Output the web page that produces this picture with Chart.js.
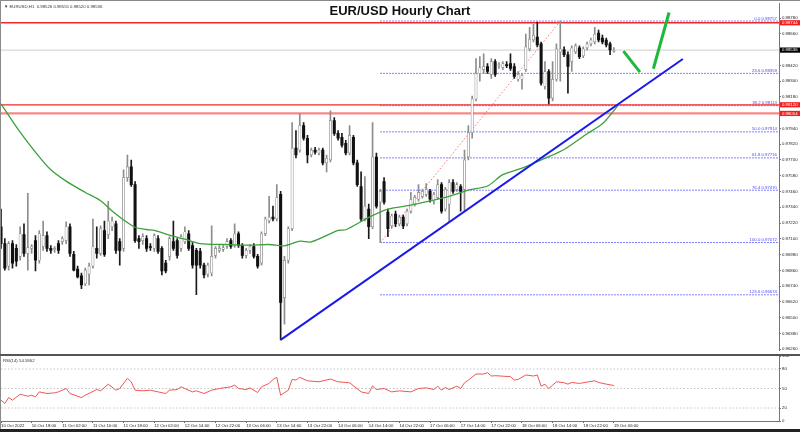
<!DOCTYPE html>
<html>
<head>
<meta charset="utf-8">
<script src="https://cdn.jsdelivr.net/npm/chart.js@4.4.0/dist/chart.umd.min.js"></script>
<style>
  html, body { margin: 0; padding: 0; background: #fff; }
  #wrap { position: relative; width: 800px; height: 432px; overflow: hidden; background: #fff; }
  #priceCanvas { position: absolute; left: 0; top: 0; }
  #rsiCanvas { position: absolute; left: 0; top: 350px; }
  .title { position: absolute; top: 3px; left: 0; width: 800px; text-align: center;
           font: bold 13px "Liberation Sans", Arial, sans-serif; line-height: 15px; color: #111; }
  .rule { position: absolute; background: #666; }
</style>
</head>
<body>
<div id="wrap">
  <canvas id="priceCanvas" width="800" height="354"></canvas>
  <canvas id="rsiCanvas" width="800" height="82"></canvas>
  <div class="rule" style="left:0;top:0;width:800px;height:1px;background:#8a8a8a"></div>
  <div class="rule" style="left:0;top:0;width:1px;height:432px;background:#8a8a8a"></div>
  <div class="rule" style="left:0;top:354px;width:800px;height:2px;background:#555"></div>
  <div class="rule" style="left:0;top:429px;width:800px;height:3px;background:#222"></div>
  <div class="title">EUR/USD Hourly Chart</div>
</div>
<script>
/* EURUSD H1 – 캔들 + MA + 피보나치 + RSI */

const opens = [
  0.97192,0.97064,0.96892,0.97064,0.97027,0.96967,0.97132,0.96989,0.97027,0.97087,
  0.96937,0.97042,0.97124,0.97027,0.97019,0.97064,0.97079,0.97087,0.97192,0.96982,
  0.96870,0.96818,0.96758,0.96832,0.96892,0.97027,0.96989,0.97162,0.97132,0.97192,
  0.97214,0.97079,0.97027,0.97566,0.97648,0.97513,0.97102,0.97087,0.97102,0.97042,
  0.97027,0.97102,0.97027,0.96915,0.96967,0.97079,0.97087,0.97027,0.97079,0.97139,
  0.97049,0.97012,0.97004,0.96900,0.96832,0.96840,0.96974,0.97012,0.97019,0.97042,
  0.97087,0.97049,0.97139,0.97049,0.96974,0.97012,0.97042,0.96967,0.96915,0.97139,
  0.97236,0.97266,0.97251,0.97438,0.96653,0.96937,0.97177,0.97790,0.97775,0.97962,
  0.97865,0.97738,0.97775,0.97753,0.97775,0.97678,0.97700,0.97999,0.97902,0.97872,
  0.97827,0.97753,0.97872,0.97678,0.97498,0.97251,0.97326,0.97192,0.97723,0.97379,
  0.97536,0.97304,0.97199,0.97289,0.97214,0.97266,0.97214,0.97311,0.97364,0.97401,
  0.97423,0.97438,0.97461,0.97386,0.97416,0.97513,0.97326,0.97364,0.97528,0.97476,
  0.97498,0.97476,0.97723,0.97909,0.98164,0.98358,0.98388,0.98411,0.98351,0.98448,
  0.98418,0.98403,0.98426,0.98433,0.98411,0.98314,0.98314,0.98388,0.98545,0.98613,
  0.98635,0.98583,0.98261,0.98373,0.98171,0.98314,0.98523,0.98538,0.98501,0.98448,
  0.98523,0.98553,0.98493,0.98553,0.98583,0.98598,0.98665,0.98628,0.98613,0.98583,
  0.98526
];
const highs = [
  0.97326,0.97102,0.97079,0.97087,0.97057,0.97192,0.97214,0.97446,0.97057,0.97124,
  0.97162,0.97236,0.97154,0.97049,0.97042,0.97087,0.97117,0.97229,0.97214,0.97004,
  0.96892,0.96840,0.96877,0.96915,0.97251,0.97192,0.97199,0.97236,0.97386,0.97266,
  0.97236,0.97102,0.97625,0.97738,0.97700,0.97536,0.97124,0.97139,0.97124,0.97064,
  0.97139,0.97124,0.97042,0.96937,0.97117,0.97236,0.97102,0.97132,0.97192,0.97162,
  0.97072,0.97027,0.97027,0.96915,0.96915,0.97199,0.97042,0.97049,0.97049,0.97102,
  0.97102,0.97214,0.97154,0.97064,0.97027,0.97057,0.97064,0.96982,0.97154,0.97266,
  0.97423,0.97349,0.97513,0.97461,0.96967,0.97192,0.97984,0.97924,0.98052,0.97984,
  0.97887,0.97790,0.97797,0.97790,0.97790,0.97738,0.98074,0.98022,0.97924,0.97902,
  0.97850,0.97962,0.97887,0.97700,0.97610,0.97573,0.97364,0.97984,0.97753,0.97476,
  0.97566,0.97326,0.97289,0.97311,0.97281,0.97281,0.97326,0.97453,0.97431,0.97513,
  0.97476,0.97521,0.97476,0.97453,0.97551,0.97528,0.97491,0.97551,0.97551,0.97528,
  0.97513,0.97775,0.97962,0.98186,0.98471,0.98486,0.98508,0.98433,0.98471,0.98463,
  0.98441,0.98448,0.98448,0.98508,0.98433,0.98373,0.98358,0.98658,0.98710,0.98732,
  0.98750,0.98598,0.98448,0.98388,0.98448,0.98583,0.98757,0.98560,0.98523,0.98568,
  0.98583,0.98568,0.98560,0.98598,0.98628,0.98710,0.98688,0.98650,0.98628,0.98598,
  0.98555
];
const lows = [
  0.97027,0.96862,0.96862,0.96877,0.96892,0.96937,0.96967,0.96862,0.96989,0.96855,
  0.96915,0.97012,0.97004,0.96989,0.96997,0.96989,0.97057,0.97064,0.96967,0.96855,
  0.96803,0.96720,0.96743,0.96750,0.96877,0.96952,0.96974,0.96967,0.97102,0.97162,
  0.96989,0.96900,0.97004,0.97536,0.97498,0.97072,0.97027,0.97057,0.97004,0.97012,
  0.97004,0.96989,0.96825,0.96840,0.96937,0.97012,0.96952,0.97004,0.97064,0.97012,
  0.96877,0.96675,0.96877,0.96803,0.96810,0.96818,0.96952,0.96997,0.97004,0.97027,
  0.97027,0.97034,0.97034,0.96952,0.96952,0.96989,0.96952,0.96877,0.96900,0.97124,
  0.97222,0.97236,0.97236,0.96331,0.96451,0.96915,0.97162,0.97715,0.97760,0.97850,
  0.97678,0.97723,0.97745,0.97738,0.97663,0.97610,0.97685,0.97887,0.97850,0.97797,
  0.97738,0.97738,0.97663,0.97498,0.97236,0.97236,0.97102,0.97177,0.97334,0.97072,
  0.97364,0.97117,0.97184,0.97192,0.97199,0.97177,0.97199,0.97296,0.97349,0.97386,
  0.97409,0.97423,0.97379,0.97364,0.97401,0.97296,0.97311,0.97229,0.97446,0.97461,
  0.97311,0.97311,0.97700,0.97865,0.98149,0.98299,0.98358,0.98358,0.98321,0.98336,
  0.98396,0.98388,0.98403,0.98381,0.98321,0.98299,0.98239,0.98373,0.98530,0.98598,
  0.98560,0.98269,0.98239,0.98126,0.98149,0.98299,0.98299,0.98486,0.98209,0.98373,
  0.98508,0.98471,0.98478,0.98538,0.98568,0.98583,0.98598,0.98583,0.98560,0.98501,
  0.98520
];
const closes = [
  0.97064,0.96877,0.97064,0.96915,0.96930,0.97139,0.96989,0.97034,0.97042,0.96937,
  0.97139,0.97124,0.97027,0.97012,0.97027,0.97012,0.97102,0.97192,0.96989,0.96862,
  0.96810,0.96750,0.96862,0.96892,0.97042,0.96989,0.97177,0.96982,0.97236,0.97236,
  0.97012,0.97012,0.97566,0.97648,0.97513,0.97087,0.97079,0.97117,0.97027,0.97034,
  0.97124,0.97004,0.96855,0.96855,0.97102,0.97027,0.96974,0.97117,0.97154,0.97027,
  0.96900,0.96900,0.96900,0.96825,0.96900,0.96967,0.97027,0.97027,0.97034,0.97079,
  0.97042,0.97139,0.97049,0.96974,0.97012,0.97042,0.96967,0.96892,0.97139,0.97251,
  0.97266,0.97251,0.97416,0.96616,0.96937,0.97177,0.97790,0.97738,0.97962,0.97865,
  0.97738,0.97775,0.97760,0.97775,0.97678,0.97715,0.97999,0.97902,0.97865,0.97812,
  0.97753,0.97887,0.97678,0.97513,0.97251,0.97349,0.97192,0.97723,0.97349,0.97461,
  0.97379,0.97177,0.97274,0.97214,0.97266,0.97199,0.97311,0.97401,0.97416,0.97453,
  0.97461,0.97476,0.97401,0.97438,0.97513,0.97311,0.97476,0.97528,0.97461,0.97513,
  0.97461,0.97700,0.97909,0.98164,0.98358,0.98403,0.98411,0.98373,0.98448,0.98351,
  0.98426,0.98433,0.98418,0.98396,0.98336,0.98351,0.98344,0.98560,0.98620,0.98650,
  0.98575,0.98284,0.98373,0.98171,0.98314,0.98545,0.98545,0.98501,0.98411,0.98553,
  0.98568,0.98486,0.98545,0.98583,0.98613,0.98658,0.98613,0.98598,0.98575,0.98538,
  0.98536
];

// 이동평균 (그림에서 읽은 샘플 지점)
const maBars   = [0,5,10,13,17,22,26,29,32,35,38,40,44,48,52,58,65,70,74,78,81,88,90,96,101,107,112,117,122,127,131,136,141,147,153,157,161];
const maValues = [0.98127,0.97912,0.97723,0.97625,0.97539,0.97453,0.97390,0.97311,0.97244,0.97188,0.97171,0.97164,0.97128,0.97097,0.97064,0.97057,0.97052,0.97057,0.97047,0.97082,0.97077,0.97164,0.97169,0.97263,0.97326,0.97356,0.97388,0.97423,0.97471,0.97502,0.97588,0.97638,0.97700,0.97780,0.97900,0.97975,0.98112];

// RSI(14)
const rsiBars   = [0,1,2,3,5,7,8,9,10,12,14,15,17,18,21,22,25,26,28,30,31,33,34,35,37,39,41,43,44,46,47,48,50,51,53,55,57,60,61,62,64,65,67,68,70,71,72,73,75,76,77,78,80,83,86,88,91,94,96,97,98,100,102,104,107,109,111,113,114,115,116,117,119,120,121,122,124,126,127,128,129,133,134,135,137,139,140,141,142,143,145,147,148,149,151,155,156,158,160];
const rsiValues = [32,26.8,36,32,41.2,38.1,39.7,37.1,44.8,42.3,43.3,44.8,50,42.3,36,39.7,48.4,46.4,56.7,47.4,50,65.6,60.3,47.4,46.4,47.4,44.8,42.3,47.4,48.4,52.6,50,44.8,46.4,42.3,47.4,50,52.6,55.2,50,48.4,51,43.8,52.6,57.8,64,67.1,39.7,47.4,64,63,67.1,61.9,60.3,64.5,60.3,58.8,44.8,42.3,54.1,48.4,50,44.8,46.4,44.8,50,51,48.4,53.6,47.4,51.6,48.4,53.6,50,58.8,62.9,72.3,72.3,74.4,69.2,69.7,68.2,63,64,70.8,69.2,70.8,53.6,56.7,50,60.3,58.8,56.7,59.3,57.8,61.9,59.3,56.7,54.6];
const rsiLast   = '54.5862';
const rsiTicks  = [0, 20, 50, 80, 100];
const rsiLevels = [20, 50, 80];

// 피보나치 되돌림
const fibPct    = ['0.0','23.6','38.2','50.0','61.8','76.4','100.0','123.6'];
const fibPrices = [0.98757,0.98359,0.98113,0.97914,0.97716,0.97470,0.97072,0.96674];
const fibStartBar = 99;

// 수평 레벨 / 추세선
const redLevels    = [0.98744, 0.98120, 0.98054];
const currentPrice = 0.98536;
const trendBars    = [73, 178];
const trendPrices  = [0.96331, 0.98468];
const fibDiagBars  = [99, 146];
const fibDiagPrice = [0.97072, 0.98757];
const arrowBars    = [[162.5, 166.8], [170.3, 174.4]];
const arrowPrices  = [[0.98528, 0.98368], [0.98394, 0.98822]];

// 축 눈금
const priceTicks = [0.96260,0.96380,0.96500,0.96620,0.96740,0.96860,0.96980,0.97100,0.97220,0.97340,0.97460,
                    0.97580,0.97700,0.97820,0.97940,0.98060,0.98180,0.98300,0.98420,0.98540,0.98660,0.98780];
const timeBars   = [0,8,16,24,32,40,48,56,64,72,80,88,96,104,112,120,128,136,144,152,160];
const timeLabels = ['10 Oct 2022','10 Oct 18:00','11 Oct 02:00','11 Oct 10:00','11 Oct 18:00','12 Oct 02:00',
                    '12 Oct 14:00','12 Oct 22:00','13 Oct 06:00','13 Oct 14:00','13 Oct 22:00','14 Oct 06:00',
                    '14 Oct 14:00','14 Oct 22:00','17 Oct 06:00','17 Oct 14:00','17 Oct 22:00','18 Oct 06:00',
                    '18 Oct 14:00','18 Oct 22:00','19 Oct 06:00'];

const X_MAX = 203.1;
const Y_MIN = 0.96251, Y_MAX = 0.98890;
const FONT = '"Liberation Sans", Arial, sans-serif';
const TINY = 4.3;

Chart.defaults.font.family = FONT;

const idx = opens.map((_, i) => i);
const isUp = i => closes[i] >= opens[i];

function seg(points, color, width, dash, order) {
    return {
        type: 'line', data: points, borderColor: color, borderWidth: width,
        borderDash: dash || [], pointRadius: 0, fill: false, tension: 0, order: order
    };
}

const priceDatasets = [
    // 수평선 먼저 (아래쪽에 그려짐)
    ...fibPrices.map(p => seg([{ x: fibStartBar, y: p }, { x: X_MAX, y: p }], 'rgba(70,70,255,0.9)', 1, [1.5, 1.5], 9)),
    seg([{ x: 0, y: currentPrice }, { x: X_MAX, y: currentPrice }], '#cfcfcf', 1, [], 9),
    seg([{ x: 0, y: redLevels[0] }, { x: X_MAX, y: redLevels[0] }], 'rgb(240,40,40)', 1.4, [], 8),
    seg([{ x: 0, y: redLevels[1] }, { x: X_MAX, y: redLevels[1] }], 'rgb(240,40,40)', 1.2, [], 8),
    seg([{ x: 0, y: redLevels[2] }, { x: X_MAX, y: redLevels[2] }], 'rgba(240,70,70,0.65)', 2.2, [], 8),
    seg(fibDiagBars.map((b, i) => ({ x: b, y: fibDiagPrice[i] })), 'rgba(255,90,90,0.85)', 1, [1.5, 2], 7),
    // 캔들 심지
    {
        type: 'bar', grouped: false, order: 4, barThickness: 1,
        data: idx.map(i => ({ x: i, y: [lows[i], highs[i]] })),
        backgroundColor: idx.map(i => isUp(i) ? '#8d8d8d' : '#1a1a1a')
    },
    // 캔들 몸통
    {
        type: 'bar', grouped: false, order: 3, barThickness: 2.4, minBarLength: 1, borderSkipped: false,
        data: idx.map(i => ({ x: i, y: [opens[i], closes[i]] })),
        backgroundColor: idx.map(i => isUp(i) ? '#ffffff' : '#111111'),
        borderColor: idx.map(i => isUp(i) ? '#8a8a8a' : '#111111'),
        borderWidth: idx.map(i => isUp(i) ? 0.7 : 0)
    },
    // 이동평균
    Object.assign(seg(maBars.map((b, i) => ({ x: b, y: maValues[i] })), 'rgb(60,160,60)', 1.3, [], 2), { tension: 0.3 }),
    // 상승 추세선
    seg(trendBars.map((b, i) => ({ x: b, y: trendPrices[i] })), 'rgb(25,25,235)', 2, [], 1),
    // 예상 경로 (초록)
    ...arrowBars.map((bs, k) => seg(bs.map((b, i) => ({ x: b, y: arrowPrices[k][i] })), 'rgb(30,185,60)', 3, [], 0))
];

const priceOverlay = {
    id: 'priceOverlay',
    afterDraw(chart) {
        const { ctx, chartArea, scales: { y } } = chart;
        ctx.save();
        ctx.font = `${TINY}px ${FONT}`;

        // 피보 라벨
        ctx.fillStyle = 'rgb(70,70,255)';
        ctx.textAlign = 'right';
        ctx.textBaseline = 'bottom';
        fibPrices.forEach((p, i) => {
            ctx.fillText(`${fibPct[i]} ${p.toFixed(5)}`, chartArea.right - 2, y.getPixelForValue(p) - 0.5);
        });

        // 가격축 박스
        const boxes = redLevels.map(v => ({ v, c: 'rgb(240,30,30)' })).concat([{ v: currentPrice, c: '#000' }]);
        ctx.textAlign = 'left';
        ctx.textBaseline = 'middle';
        boxes.forEach(b => {
            const py = y.getPixelForValue(b.v);
            ctx.fillStyle = b.c;
            ctx.fillRect(chartArea.right + 1, py - 2.6, 21, 5.2);
            ctx.fillStyle = '#fff';
            ctx.fillText(b.v.toFixed(5), chartArea.right + 3, py);
        });

        // 좌상단 심볼 정보
        const last = opens.length - 1;
        ctx.fillStyle = '#333';
        ctx.fillText(`\u25BC EURUSD,H1  ${opens[last].toFixed(5)} ${highs[last].toFixed(5)} ${lows[last].toFixed(5)} ${closes[last].toFixed(5)}`, 4, 6.5);
        ctx.restore();
    }
};

new Chart(document.getElementById('priceCanvas'), {
    type: 'bar',
    data: { datasets: priceDatasets },
    options: {
        responsive: false,
        animation: false,
        layout: { padding: { left: 1, top: 1, right: 0, bottom: 0 } },
        plugins: { legend: { display: false }, tooltip: { enabled: false } },
        scales: {
            x: { type: 'linear', min: 0, max: X_MAX, display: false, offset: false, grid: { offset: false } },
            y: {
                position: 'right', min: Y_MIN, max: Y_MAX, beginAtZero: false,
                afterBuildTicks: s => { s.ticks = priceTicks.map(v => ({ value: v })); },
                afterFit: s => { s.width = 21; },
                ticks: { font: { size: TINY }, color: '#222', padding: 1, callback: v => v.toFixed(5) },
                grid: { drawOnChartArea: false, tickLength: 2, color: '#777' },
                border: { color: '#777' }
            }
        }
    },
    plugins: [priceOverlay]
});

const rsiOverlay = {
    id: 'rsiOverlay',
    afterDraw(chart) {
        const { ctx, chartArea } = chart;
        ctx.save();
        ctx.font = `${TINY}px ${FONT}`;
        ctx.fillStyle = '#333';
        ctx.textBaseline = 'middle';
        ctx.fillText(`RSI(14) ${rsiLast}`, 3, chartArea.top + 4.5);
        ctx.restore();
    }
};

new Chart(document.getElementById('rsiCanvas'), {
    type: 'line',
    data: {
        datasets: [
            ...rsiLevels.map(l => seg([{ x: 0, y: l }, { x: X_MAX, y: l }], '#c4c4c4', 1, [1.5, 2], 2)),
            seg(rsiBars.map((b, i) => ({ x: b, y: rsiValues[i] })), 'rgb(240,85,85)', 1, [], 0)
        ]
    },
    options: {
        responsive: false,
        animation: false,
        layout: { padding: { left: 1, top: 6, right: 0, bottom: 0 } },
        plugins: { legend: { display: false }, tooltip: { enabled: false } },
        scales: {
            x: {
                type: 'linear', min: 0, max: X_MAX,
                afterBuildTicks: s => { s.ticks = timeBars.map(v => ({ value: v })); },
                afterFit: s => { s.height = 11; },
                ticks: { autoSkip: false, maxRotation: 0, align: 'start', padding: 0,
                         font: { size: TINY }, color: '#222', callback: (v, i) => timeLabels[i] },
                grid: { drawOnChartArea: false, tickLength: 2, color: '#666' },
                border: { color: '#777' }
            },
            y: {
                position: 'right', min: 0, max: 100,
                afterBuildTicks: s => { s.ticks = rsiTicks.map(v => ({ value: v })); },
                afterFit: s => { s.width = 21; },
                ticks: { font: { size: TINY }, color: '#222', padding: 1 },
                grid: { drawOnChartArea: false, tickLength: 2, color: '#777' },
                border: { color: '#777' }
            }
        }
    },
    plugins: [rsiOverlay]
});
</script>
</body>
</html>
